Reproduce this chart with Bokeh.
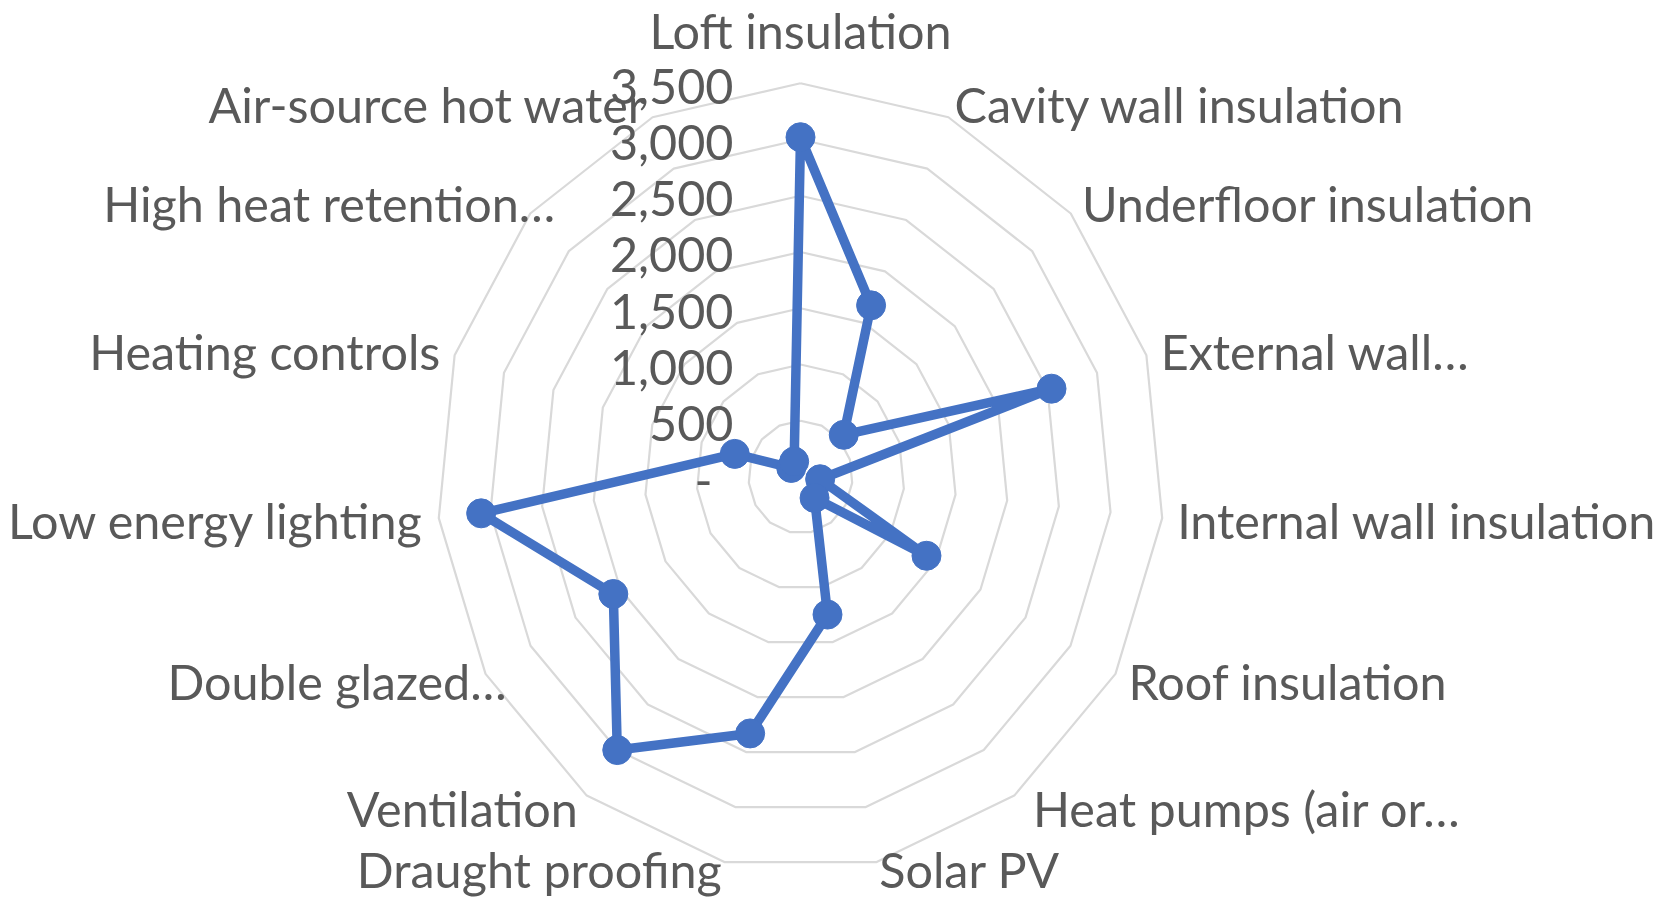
import numpy as np
from bokeh.plotting import figure
from bokeh.models import ColumnDataSource, Range1d
from bokeh.core.properties import value, field
from bokeh.embed import file_html
from bokeh.resources import INLINE

# ---------------- data ----------------
categories = [
    "Loft insulation", "Cavity wall insulation", "Underfloor insulation",
    "External wall…", "Internal wall insulation", "Roof insulation",
    "Heat pumps (air or…", "Solar PV", "Draught proofing", "Ventilation",
    "Double glazed…", "Low energy lighting", "Heating controls",
    "High heat retention…", "Air-source hot water",
]
values = [3020, 1670, 560, 2540, 190, 1400, 230, 1250, 2330, 3000, 2080, 3090, 665, 120, 150]
tick_values = [0, 500, 1000, 1500, 2000, 2500, 3000, 3500]
tick_labels = ["-", "500", "1,000", "1,500", "2,000", "2,500", "3,000", "3,500"]

# ---------------- layout ----------------
W, H = 1662, 904
CX, CY = 800.0, 476.5          # centre of the radar in canvas pixels
RX, RY = 363.7, 393.8          # pixel radius of the outer ring (x / y)
RMAX = tick_values[-1]
kx, ky = RX / RMAX, RY / RMAX

FONT = "Lato"
FSIZE = "48.5px"
TXT = "#595959"
BLUE = "#4472C4"
GRID = "#D9D9D9"

# extra horizontal nudges (px) of the truncated category labels, by index
LABEL_NUDGE = {6: 10, 10: 34, 13: 36}

n = len(categories)
theta = np.arange(n) * 2 * np.pi / n
s, c = np.sin(theta), np.cos(theta)

p = figure(width=W, height=H, output_backend="svg", toolbar_location=None,
           x_range=Range1d(-CX / kx, (W - CX) / kx),
           y_range=Range1d(-(H - CY) / ky, CY / ky),
           min_border=0)
p.axis.visible = False
p.grid.visible = False
p.outline_line_color = None
p.background_fill_color = "white"
p.border_fill_color = "white"

# grid rings
ring_xs, ring_ys = [], []
for v in tick_values[1:]:
    ring_xs.append(list(np.append(v * s, v * s[0])))
    ring_ys.append(list(np.append(v * c, v * c[0])))
p.multi_line(ring_xs, ring_ys, line_color=GRID, line_width=2.2)

# tick labels
tsrc = ColumnDataSource(dict(
    x=[0.0] * len(tick_values), y=tick_values, t=tick_labels,
    xo=[-88 if v == 0 else -67 for v in tick_values],
))
p.text(x="x", y="y", text="t", source=tsrc, x_offset=field("xo"), y_offset=3,
       text_align="right", text_baseline="middle",
       text_font=value(FONT), text_font_size=FSIZE, text_color=TXT)

# data series
vals = np.array(values, dtype=float)
dx = vals * s
dy = vals * c
p.line(list(np.append(dx, dx[0])), list(np.append(dy, dy[0])),
       line_color=BLUE, line_width=9.5, line_join="round")
p.scatter(list(dx), list(dy), size=29, fill_color=BLUE, line_color=BLUE)

# category labels
aligns, xo, yo = [], [], []
for i, (si, ci) in enumerate(zip(s, c)):
    if si > 0.01:
        aligns.append("left")
    elif si < -0.01:
        aligns.append("right")
    else:
        aligns.append("center")
    xo.append(15 * si + LABEL_NUDGE.get(i, 0))
    extra = 0
    if ci > 0.99:
        extra = -38
    elif ci < -0.97:
        extra = -8
    yo.append(-15 * ci + extra)
csrc = ColumnDataSource(dict(x=list(RMAX * s), y=list(RMAX * c), t=categories,
                             a=aligns, xo=xo, yo=yo))
p.text(x="x", y="y", text="t", source=csrc, x_offset=field("xo"), y_offset=field("yo"),
       text_align=field("a"), text_baseline="middle",
       text_font=value(FONT), text_font_size=FSIZE, text_color=TXT)

open("out.html", "w").write(file_html(p, INLINE))
